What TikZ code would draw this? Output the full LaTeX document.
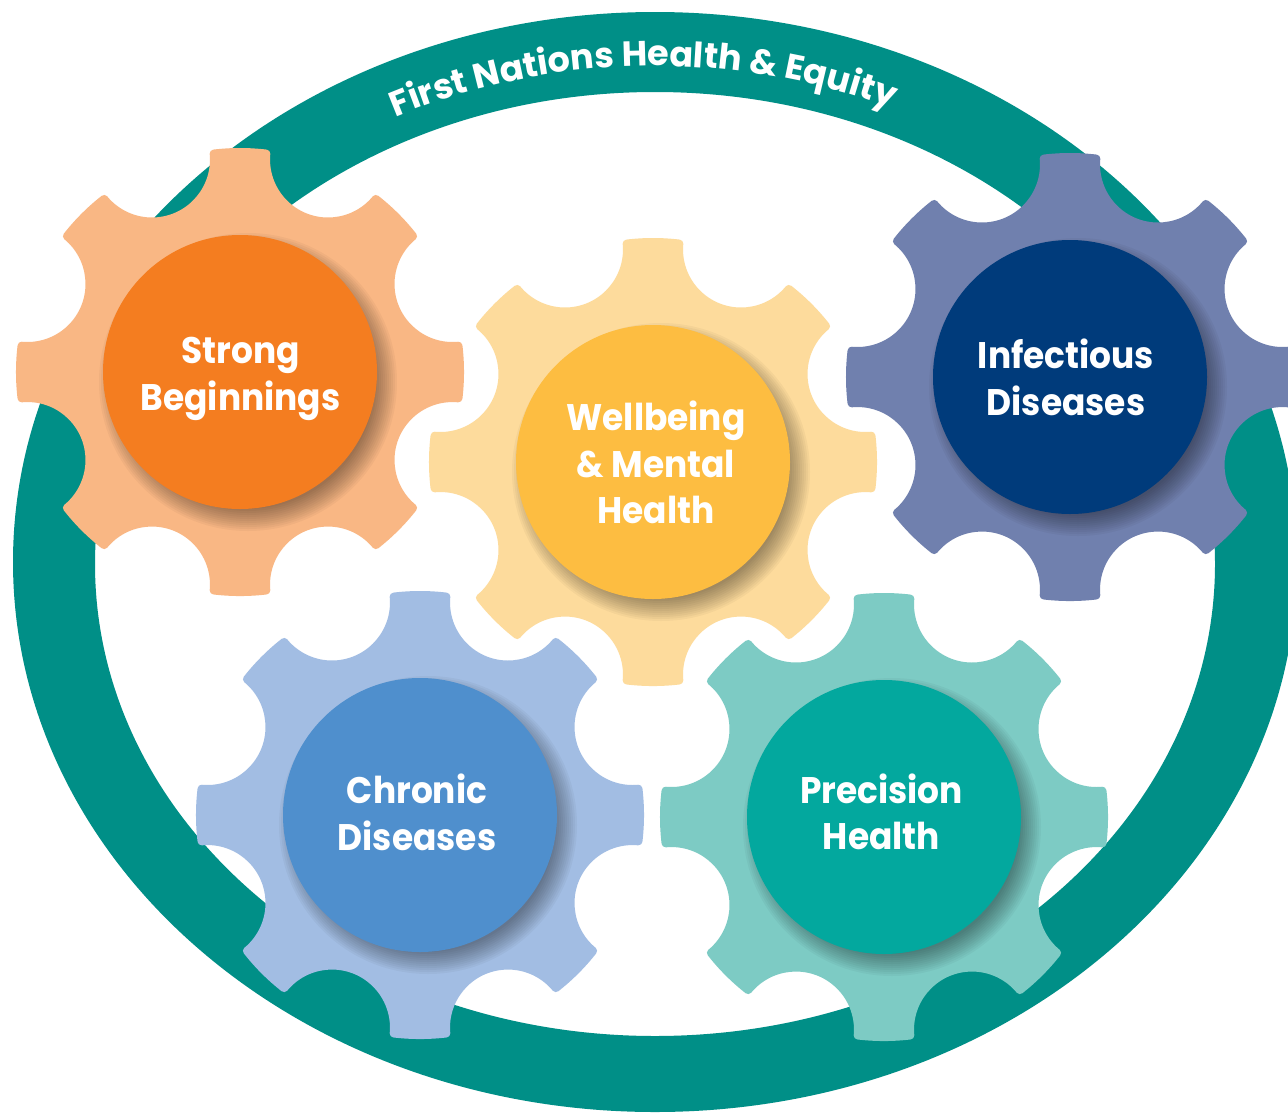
\documentclass[tikz,border=0pt]{standalone}
\usepackage{fontspec}
\setmainfont{Poppins}
\newfontfamily\lblfont{Poppins}[FakeStretch=0.93]
\newfontfamily\ringfont{Poppins}
\usetikzlibrary{decorations.text}
\definecolor{ringC}{HTML}{008F87}
\definecolor{sbG}{HTML}{F9B784}
\definecolor{sbC}{HTML}{F47D20}
\definecolor{wbG}{HTML}{FDDB9C}
\definecolor{wbC}{HTML}{FDBD41}
\definecolor{idG}{HTML}{7080AE}
\definecolor{idC}{HTML}{003B7B}
\definecolor{cdG}{HTML}{A2BDE3}
\definecolor{cdC}{HTML}{4F8FCD}
\definecolor{phG}{HTML}{7DCBC4}
\definecolor{phC}{HTML}{03A89E}
\tikzset{
  gearshape/.style={fill=#1, draw=#1, line width=8pt, line join=round},
  hub/.style={circle, fill=#1, minimum size=274pt, inner sep=0pt, outer sep=0pt},
  hubshade/.style={fill=black, opacity=0.035},
  lbl/.style={text=white, font=\lblfont\bfseries\fontsize{37}{47}\selectfont, anchor=base, inner sep=0pt},
}
\newcommand\gearpath[3]{%
  \path[gearshape=#3] (#1,-#2) ++(83.13:220)
  \foreach \k in {0,...,7}{
    arc[start angle={83.13+45*\k}, end angle={96.87+45*\k}, radius=220]
    arc[start angle={365.48+45*\k}, end angle={219.52+45*\k}, radius=62]
  } -- cycle;}
\newcommand\hubshadow[2]{%
  \foreach \i in {0,...,11}{\fill[hubshade] (#1+8,-#2-10) circle[radius={149-2*\i}];}}
\begin{document}
\begin{tikzpicture}[x=1pt,y=1pt]
\useasboundingbox (0,0) rectangle (1288,-1114);
\clip (0,0) rectangle (1288,-1114);
\fill[white] (0,0) rectangle (1288,-1114);
% ring
\fill[ringC, even odd rule] (655,-562) ellipse[x radius=642, y radius=550]
  (655,-564) ellipse[x radius=560, y radius=472];
\path[decorate, decoration={text along path, text align=center,
  text={|\color{white}\ringfont\bfseries\fontsize{35}{35}\selectfont|First Nations Health {\&} Equity}}]
  (655,-563) ++(136.3:587 and 497) arc[start angle=136.3, end angle=46.3, x radius=587, y radius=497];
% gears
\gearpath{240}{372}{sbG}
\gearpath{653}{462}{wbG}
\gearpath{1070}{377}{idG}
\gearpath{420}{815}{cdG}
\gearpath{884}{817}{phG}
% hubs
\hubshadow{240}{372}
\node[hub=sbC] (sb) at (240,-372) {};
\hubshadow{653}{462}
\node[hub=wbC] (wb) at (653,-462) {};
\hubshadow{1070}{377}
\node[hub=idC] (id) at (1070,-377) {};
\hubshadow{420}{815}
\node[hub=cdC] (cd) at (420,-815) {};
\hubshadow{884}{817}
\node[hub=phC] (ph) at (884,-817) {};
% labels
\node[lbl] (sb1) at (240.5,-363) {Strong};
\node[lbl] (sb2) at (240.5,-410) {Beginnings};
\node[lbl] (wb1) at (656,-430) {Wellbeing};
\node[lbl] (wb2) at (656,-477) {\& Mental};
\node[lbl] (wb3) at (656,-523) {Health};
\node[lbl] (id1) at (1066,-368) {Infectious};
\node[lbl] (id2) at (1066,-415) {Diseases};
\node[lbl] (cd1) at (417,-803) {Chronic};
\node[lbl] (cd2) at (417,-850) {Diseases};
\node[lbl] (ph1) at (881.5,-803) {Precision};
\node[lbl] (ph2) at (881.5,-849) {Health};
\end{tikzpicture}
\end{document}
